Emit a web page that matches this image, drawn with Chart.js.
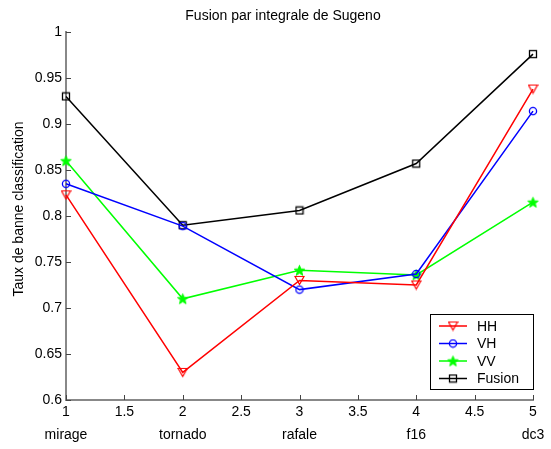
<!DOCTYPE html>
<html>
<head>
<meta charset="utf-8">
<script src="https://cdn.jsdelivr.net/npm/chart.js@4"></script>
<style>
  html, body { margin: 0; padding: 0; background: #fff; }
</style>
</head>
<body>
<canvas id="fusionChart" width="551" height="449"></canvas>
<script>
// Data
const categories = ['mirage', 'tornado', 'rafale', 'f16', 'dc3'];
const xValues = [1, 2, 3, 4, 5];
const hh = [0.823, 0.630, 0.730, 0.725, 0.938];
const vh = [0.835, 0.789, 0.720, 0.737, 0.914];
const vv = [0.860, 0.710, 0.741, 0.736, 0.815];
const fusion = [0.930, 0.790, 0.806, 0.857, 0.976];
const xTickLabels = ['1', '1.5', '2', '2.5', '3', '3.5', '4', '4.5', '5'];
const yTickLabels = ['0.6', '0.65', '0.7', '0.75', '0.8', '0.85', '0.9', '0.95', '1'];
const chartTitle = 'Fusion par integrale de Sugeno';
const yTitle = 'Taux de banne classification';

const FONT = "'Liberation Sans', Arial, Helvetica, sans-serif";
Chart.defaults.color = '#000';
Chart.defaults.font.family = FONT;
Chart.defaults.font.size = 14;

// small canvases used as marker images
function marker(size, draw) {
    const c = document.createElement('canvas');
    c.width = size; c.height = size;
    const g = c.getContext('2d');
    draw(g, size);
    return c;
}

const triDown = marker(11, (g, s) => {
    g.strokeStyle = '#ff0000'; g.lineWidth = 1.2;
    g.beginPath();
    g.moveTo(1, 1.5); g.lineTo(s - 1, 1.5); g.lineTo(s / 2, s - 1.5); g.closePath();
    g.stroke();
});
const circle = marker(10, (g, s) => {
    g.strokeStyle = '#0000ff'; g.lineWidth = 1.3;
    g.beginPath(); g.arc(s / 2, s / 2, 3.6, 0, Math.PI * 2); g.stroke();
});
const star = marker(13, (g, s) => {
    g.fillStyle = '#00ff00'; g.strokeStyle = '#00ff00'; g.lineWidth = 1;
    const cx = s / 2, cy = s / 2 + 0.5, R = 5.5, r = 2.3;
    g.beginPath();
    for (let i = 0; i < 10; i++) {
        const a = -Math.PI / 2 + i * Math.PI / 5;
        const rad = i % 2 ? r : R;
        g.lineTo(cx + rad * Math.cos(a), cy + rad * Math.sin(a));
    }
    g.closePath(); g.fill(); g.stroke();
});
const square = marker(10, (g, s) => {
    g.strokeStyle = '#000'; g.lineWidth = 1.3;
    g.strokeRect(1.5, 1.5, 7, 7);
});

function pts(arr) {
    return arr.map((v, i) => ({ x: xValues[i], y: v }));
}

const datasets = [
    { label: 'HH', data: pts(hh), borderColor: '#ff0000', pointStyle: triDown },
    { label: 'VH', data: pts(vh), borderColor: '#0000ff', pointStyle: circle },
    { label: 'VV', data: pts(vv), borderColor: '#00ff00', pointStyle: star },
    { label: 'Fusion', data: pts(fusion), borderColor: '#000000', pointStyle: square }
].map(d => Object.assign(d, {
    borderWidth: 1.5,
    backgroundColor: d.borderColor,
    tension: 0,
    clip: false
}));

// ticks pointing into the plot, like the original
const inwardTicks = {
    id: 'inwardTicks',
    beforeDatasetsDraw(chart) {
        const { ctx, chartArea, scales } = chart;
        ctx.save();
        ctx.strokeStyle = '#444';
        ctx.lineWidth = 1;
        ctx.beginPath();
        scales.x.ticks.forEach(t => {
            const px = Math.round(scales.x.getPixelForValue(t.value)) + 0.5;
            ctx.moveTo(px, chartArea.bottom);
            ctx.lineTo(px, chartArea.bottom - 5);
        });
        scales.y.ticks.forEach(t => {
            const py = Math.round(scales.y.getPixelForValue(t.value)) + 0.5;
            ctx.moveTo(chartArea.left, py);
            ctx.lineTo(chartArea.left + 5, py);
        });
        ctx.stroke();
        ctx.restore();
    }
};

// titles placed where the original figure has them
const titles = {
    id: 'titles',
    afterDraw(chart) {
        const { ctx } = chart;
        ctx.save();
        ctx.fillStyle = '#000';
        ctx.font = '14px ' + FONT;
        ctx.textAlign = 'center';
        ctx.textBaseline = 'middle';
        ctx.fillText(chartTitle, 283, 16);
        ctx.translate(19, 209);
        ctx.rotate(-Math.PI / 2);
        ctx.fillText(yTitle, 0, 0);
        ctx.restore();
    }
};

// legend box in the lower right corner of the axes
const boxLegend = {
    id: 'boxLegend',
    afterDraw(chart) {
        const { ctx, chartArea } = chart;
        const w = 103, h = 75;
        const x = chartArea.right - w, y = chartArea.bottom - 11 - h;
        ctx.save();
        ctx.fillStyle = '#fff';
        ctx.fillRect(x, y, w, h);
        ctx.strokeStyle = '#000';
        ctx.lineWidth = 1;
        ctx.strokeRect(x + 0.5, y + 0.5, w, h);
        ctx.font = '14px ' + FONT;
        ctx.textBaseline = 'middle';
        chart.data.datasets.forEach((ds, i) => {
            const ry = y + 12 + i * 17.5;
            ctx.strokeStyle = ds.borderColor;
            ctx.lineWidth = 1.5;
            ctx.beginPath();
            ctx.moveTo(x + 9, ry); ctx.lineTo(x + 37, ry);
            ctx.stroke();
            const img = ds.pointStyle;
            ctx.drawImage(img, x + 23 - img.width / 2, ry - img.height / 2);
            ctx.fillStyle = '#000';
            ctx.fillText(ds.label, x + 47, ry + 1);
        });
        ctx.restore();
    }
};

new Chart(document.getElementById('fusionChart').getContext('2d'), {
    type: 'line',
    data: { datasets: datasets },
    options: {
        responsive: false,
        animation: false,
        layout: { padding: { left: 0, right: 18, top: 32, bottom: 0 } },
        plugins: {
            legend: { display: false },
            tooltip: { enabled: false },
            title: { display: false }
        },
        scales: {
            x: {
                type: 'linear',
                min: 1,
                max: 5,
                afterFit: s => { s.height = 49; },
                afterBuildTicks: s => {
                    s.ticks = xTickLabels.map(l => ({ value: parseFloat(l) }));
                },
                grid: { display: false, drawTicks: false },
                border: { color: '#888', width: 2 },
                ticks: {
                    padding: 1,
                    maxRotation: 0,
                    autoSkip: false,
                    font: { size: 14, lineHeight: 1.64 },
                    callback: (v, i) => {
                        const ci = xValues.indexOf(v);
                        return [xTickLabels[i], ci >= 0 ? categories[ci] : ''];
                    }
                }
            },
            y: {
                min: 0.6,
                max: 1,
                afterFit: s => { s.width = 66; },
                afterBuildTicks: s => {
                    s.ticks = yTickLabels.map(l => ({ value: parseFloat(l) }));
                },
                grid: { display: false, drawTicks: false },
                border: { color: '#888', width: 2 },
                ticks: {
                    padding: 4,
                    autoSkip: false,
                    font: { size: 14 },
                    callback: (v, i) => yTickLabels[i]
                }
            }
        }
    },
    plugins: [inwardTicks, titles, boxLegend]
});
</script>
</body>
</html>
